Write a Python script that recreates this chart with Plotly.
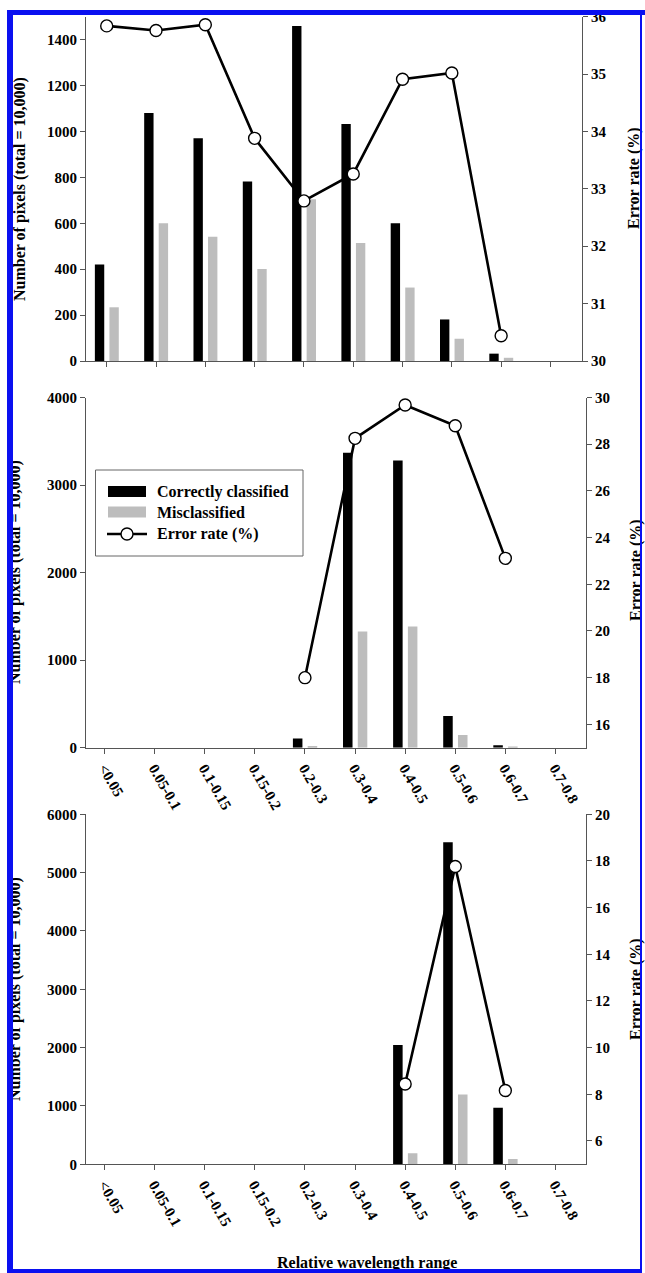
import plotly.graph_objects as go

# ---------------- data ----------------
categories = ["<0.05", "0.05-0.1", "0.1-0.15", "0.15-0.2", "0.2-0.3",
              "0.3-0.4", "0.4-0.5", "0.5-0.6", "0.6-0.7", "0.7-0.8"]

top_correct = [420, 1080, 970, 782, 1460, 1033, 600, 181, 32, 0]
top_mis = [234, 600, 541, 401, 705, 514, 320, 97, 14, 0]
top_err = [35.84, 35.76, 35.86, 33.88, 32.79, 33.26, 34.91, 35.02, 30.44, None]

mid_correct = [0, 0, 0, 0, 105, 3370, 3280, 362, 27, 0]
mid_mis = [0, 0, 0, 0, 19, 1326, 1383, 145, 8, 0]
mid_err = [None, None, None, None, 18.0, 28.25, 29.68, 28.79, 23.11, None]

bot_correct = [0, 0, 0, 0, 0, 0, 2046, 5520, 971, 0]
bot_mis = [0, 0, 0, 0, 0, 0, 189, 1195, 91, 0]
bot_err = [None, None, None, None, None, None, 8.44, 17.76, 8.16, None]

top_count_ticks = [0, 200, 400, 600, 800, 1000, 1200, 1400]
top_err_ticks = [30, 31, 32, 33, 34, 35, 36]
mid_count_ticks = [0, 1000, 2000, 3000, 4000]
mid_err_ticks = [16, 18, 20, 22, 24, 26, 28, 30]
bot_count_ticks = [0, 1000, 2000, 3000, 4000, 5000, 6000]
bot_err_ticks = [6, 8, 10, 12, 14, 16, 18, 20]

legend_labels = ["Correctly classified", "Misclassified", "Error rate (%)"]
y_title = "Number of pixels (total = 10,000)"
y2_title = "Error rate (%)"
x_title = "Relative wavelength range"

# ---------------- layout helpers ----------------
W, H = 645, 1273
FONT = "Liberation Serif"
AX = "#555555"


def fx(px):
    return px / W


def fy(py):
    return 1 - py / H


panels = [
    dict(data=(top_correct, top_mis, top_err), px=(86, 582), py=(16.7, 361),
         crange=[0, 1500], cticks=top_count_ticks, erange=[30, 36], eticks=top_err_ticks,
         xrange=[-0.42, 9.64], labels=False, ytitle_x=20, ytitle_y=189, y2title_x=634, y2title_y=178),
    dict(data=(mid_correct, mid_mis, mid_err), px=(86, 586), py=(397.5, 747.7),
         crange=[0, 4000], cticks=mid_count_ticks, erange=[15, 30], eticks=mid_err_ticks,
         xrange=[-0.37, 9.61], labels=True, ytitle_x=15, ytitle_y=572, y2title_x=636, y2title_y=570),
    dict(data=(bot_correct, bot_mis, bot_err), px=(86, 586), py=(814.3, 1164.3),
         crange=[0, 6000], cticks=bot_count_ticks, erange=[5, 20], eticks=bot_err_ticks,
         xrange=[-0.37, 9.61], labels=True, ytitle_x=15, ytitle_y=989, y2title_x=636, y2title_y=989),
]

fig = go.Figure()
layout = dict(
    width=W, height=H, autosize=False,
    margin=dict(l=0, r=0, t=0, b=0, pad=0),
    paper_bgcolor="white", plot_bgcolor="white",
    showlegend=False, barmode="overlay",
    font=dict(family=FONT, size=15, color="black", weight="bold"),
)
annotations = []
shapes = []

tickfont = dict(family=FONT, size=15, color="black", weight="bold")

for i, p in enumerate(panels):
    xn = "" if i == 0 else str(i + 1)
    yl = "" if i == 0 else str(2 * i + 1)
    yr = str(2 * i + 2)
    correct, mis, err = p["data"]

    fig.add_trace(go.Bar(x=categories, y=correct, width=0.19, offset=-0.24,
                         marker=dict(color="black", line=dict(width=0)),
                         xaxis="x" + xn, yaxis="y" + yl))
    fig.add_trace(go.Bar(x=categories, y=mis, width=0.19, offset=0.055,
                         marker=dict(color="#BDBDBD", line=dict(width=0)),
                         xaxis="x" + xn, yaxis="y" + yl))
    fig.add_trace(go.Scatter(x=categories, y=err, mode="lines+markers",
                             line=dict(color="black", width=2.6),
                             marker=dict(size=12, color="white", line=dict(color="black", width=1.4)),
                             connectgaps=False, cliponaxis=False,
                             xaxis="x" + xn, yaxis="y" + yr))

    xdom = [fx(p["px"][0]), fx(p["px"][1])]
    ydom = [fy(p["py"][1]), fy(p["py"][0])]

    layout["xaxis" + xn] = dict(
        domain=xdom, anchor="y" + yl, type="category", range=p["xrange"],
        categoryorder="array", categoryarray=categories,
        showline=True, linecolor=AX, linewidth=1, showgrid=False, zeroline=False,
        ticks="outside", ticklen=5, tickcolor=AX, tickwidth=1,
        tickmode="array", tickvals=categories, ticktext=categories,
        showticklabels=p["labels"], tickangle=60, tickfont=tickfont,
        automargin=False, fixedrange=True,
    )
    layout["yaxis" + yl] = dict(
        domain=ydom, anchor="x" + xn, range=p["crange"], side="left",
        showline=True, linecolor=AX, linewidth=1, showgrid=False, zeroline=False,
        ticks="outside", ticklen=5, tickcolor=AX, tickwidth=1,
        tickmode="array", tickvals=p["cticks"], ticktext=[str(v) for v in p["cticks"]],
        tickfont=tickfont, automargin=False, fixedrange=True,
    )
    layout["yaxis" + yr] = dict(
        domain=ydom, anchor="x" + xn, overlaying="y" + yl, range=p["erange"], side="right",
        showline=True, linecolor=AX, linewidth=1, showgrid=False, zeroline=False,
        ticks="outside", ticklen=5, tickcolor=AX, tickwidth=1,
        tickmode="array", tickvals=p["eticks"], ticktext=[str(v) for v in p["eticks"]],
        tickfont=tickfont, automargin=False, fixedrange=True,
    )

    annotations.append(dict(text=y_title, xref="paper", yref="paper",
                            x=fx(p["ytitle_x"]), y=fy(p["ytitle_y"]), xanchor="center", yanchor="middle",
                            textangle=-90, showarrow=False,
                            font=dict(family=FONT, size=16, color="black", weight="bold")))
    annotations.append(dict(text=y2_title, xref="paper", yref="paper",
                            x=fx(p["y2title_x"]), y=fy(p["y2title_y"]), xanchor="center", yanchor="middle",
                            textangle=-90, showarrow=False,
                            font=dict(family=FONT, size=16, color="black", weight="bold")))

annotations.append(dict(text=x_title, xref="paper", yref="paper",
                        x=fx(367), y=fy(1252), xanchor="center", yanchor="top", showarrow=False,
                        font=dict(family=FONT, size=16, color="black", weight="bold")))

# ---------------- legend (middle panel) ----------------
shapes.append(dict(type="rect", xref="paper", yref="paper", layer="above",
                   x0=fx(95.5), x1=fx(303), y0=fy(556), y1=fy(470),
                   line=dict(color="#666666", width=1), fillcolor="white"))
shapes.append(dict(type="rect", xref="paper", yref="paper", layer="above",
                   x0=fx(108), x1=fx(146), y0=fy(497), y1=fy(486),
                   line=dict(width=0), fillcolor="black"))
shapes.append(dict(type="rect", xref="paper", yref="paper", layer="above",
                   x0=fx(108), x1=fx(146), y0=fy(517.5), y1=fy(506.5),
                   line=dict(width=0), fillcolor="#BDBDBD"))
shapes.append(dict(type="line", xref="paper", yref="paper", layer="above",
                   x0=fx(107), x1=fx(147), y0=fy(534), y1=fy(534),
                   line=dict(color="black", width=2.6)))
shapes.append(dict(type="circle", xref="paper", yref="paper", layer="above",
                   x0=fx(121), x1=fx(133), y0=fy(540), y1=fy(528),
                   line=dict(color="black", width=1.4), fillcolor="white"))
for lbl, ypx in zip(legend_labels, [491.5, 512, 533.5]):
    annotations.append(dict(text=lbl, xref="paper", yref="paper",
                            x=fx(155), y=fy(ypx), xanchor="left", yanchor="middle", showarrow=False,
                            font=dict(family=FONT, size=16, color="black", weight="bold")))

# ---------------- blue frame (drawn on top) ----------------
BLUE = "#0A10F0"
frame = [
    (6.8, 12.4, 9.5, 1273),   # left
    (6.8, 645, 9.5, 14),      # top
    (640, 642, 9.5, 1273),    # right
    (6.8, 642, 1269, 1273),   # bottom
]
for x0, x1, y0, y1 in frame:
    annotations.append(dict(text=" ", xref="paper", yref="paper",
                            x=fx(x0), y=fy(y0), xanchor="left", yanchor="top",
                            width=x1 - x0, height=y1 - y0, bgcolor=BLUE,
                            borderpad=0, borderwidth=0, showarrow=False,
                            font=dict(size=1)))

layout["annotations"] = annotations
layout["shapes"] = shapes
fig.update_layout(**layout)

fig.write_html(
    "out.html",
    config={"displayModeBar": False},
    post_script="document.body.style.margin='0px';document.documentElement.style.overflow='hidden';document.body.style.overflow='hidden';",
)
